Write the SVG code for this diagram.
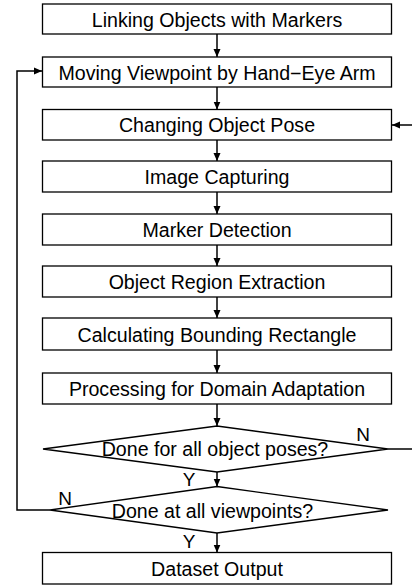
<svg xmlns="http://www.w3.org/2000/svg" width="412" height="585" viewBox="0 0 412 585">
<defs>
<marker id="ah" markerWidth="9" markerHeight="9" refX="8" refY="4.5" orient="auto" markerUnits="userSpaceOnUse">
<path d="M0,1 L8,4.5 L0,8 Z" fill="#000"/>
</marker>
<style>
.box{fill:#fff;stroke:#000;stroke-width:1.3}
.t{font-family:"Liberation Sans",Arial,sans-serif;font-size:19.6px;fill:#000;text-anchor:middle}
.l{font-family:"Liberation Sans",Arial,sans-serif;font-size:19px;fill:#000;text-anchor:middle}
.c{fill:none;stroke:#000;stroke-width:1.5}
</style>
</defs>
<rect width="412" height="585" fill="#fff"/>
<g id="connectors">
<line class="c" x1="217" y1="34" x2="217" y2="57" marker-end="url(#ah)"/>
<line class="c" x1="217" y1="87" x2="217" y2="109.5" marker-end="url(#ah)"/>
<line class="c" x1="217" y1="140" x2="217" y2="161" marker-end="url(#ah)"/>
<line class="c" x1="217" y1="192" x2="217" y2="214" marker-end="url(#ah)"/>
<line class="c" x1="217" y1="245" x2="217" y2="266" marker-end="url(#ah)"/>
<line class="c" x1="217" y1="297" x2="217" y2="318" marker-end="url(#ah)"/>
<line class="c" x1="217" y1="350" x2="217" y2="373" marker-end="url(#ah)"/>
<line class="c" x1="217" y1="404" x2="217" y2="426" marker-end="url(#ah)"/>
<line class="c" x1="217" y1="472" x2="217" y2="486.5" marker-end="url(#ah)"/>
<line class="c" x1="217" y1="533" x2="217" y2="552.5" marker-end="url(#ah)"/>
<polyline class="c" points="50,510 17,510 17,71 42,71" marker-end="url(#ah)"/>
<line class="c" x1="388" y1="449" x2="412" y2="449"/>
<line class="c" x1="412" y1="125" x2="392" y2="125" marker-end="url(#ah)"/>
</g>
<g id="n1"><rect class="box" x="42.5" y="4" width="349" height="30"/><text class="t" x="217" y="26.5">Linking Objects with Markers</text></g>
<g id="n2"><rect class="box" x="42.5" y="57" width="349" height="30"/><text class="t" x="217" y="79.5">Moving Viewpoint by Hand−Eye Arm</text></g>
<g id="n3"><rect class="box" x="42.5" y="109.5" width="349" height="30.5"/><text class="t" x="217" y="132">Changing Object Pose</text></g>
<g id="n4"><rect class="box" x="42.5" y="161" width="349" height="31"/><text class="t" x="217" y="184">Image Capturing</text></g>
<g id="n5"><rect class="box" x="42.5" y="214" width="349" height="31"/><text class="t" x="217" y="236.5">Marker Detection</text></g>
<g id="n6"><rect class="box" x="42.5" y="266" width="349" height="31"/><text class="t" x="217" y="289">Object Region Extraction</text></g>
<g id="n7"><rect class="box" x="42.5" y="318" width="349" height="32"/><text class="t" x="217" y="341.5">Calculating Bounding Rectangle</text></g>
<g id="n8"><rect class="box" x="42.5" y="373" width="349" height="31"/><text class="t" x="217" y="396">Processing for Domain Adaptation</text></g>
<g id="d1"><polygon class="box" points="43,449 217,426 388,449 217,472"/><text class="t" x="215" y="456">Done for all object poses?</text></g>
<g id="d2"><polygon class="box" points="50,510 217,486.5 388,510 217,533"/><text class="t" x="212.5" y="517.5">Done at all viewpoints?</text></g>
<g id="n9"><rect class="box" x="42.5" y="552.5" width="349" height="31.5"/><text class="t" x="217" y="575.5">Dataset Output</text></g>
<g id="labels">
<text class="l" x="363" y="440.5">N</text>
<text class="l" x="65" y="505">N</text>
<text class="l" x="189" y="485.5">Y</text>
<text class="l" x="189" y="548">Y</text>
</g>
</svg>
